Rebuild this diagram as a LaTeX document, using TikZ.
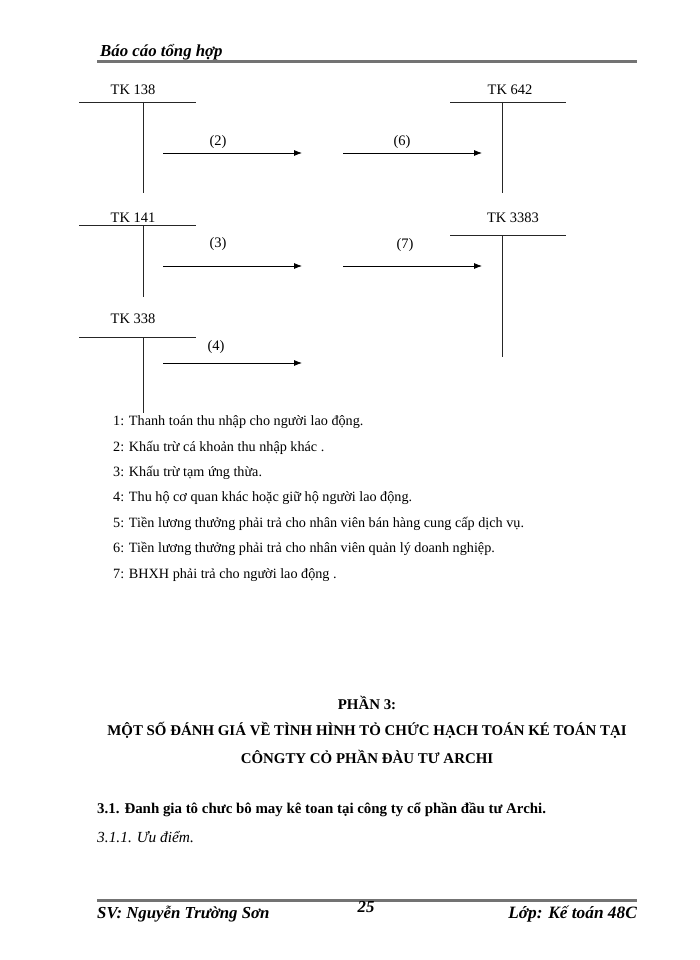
\documentclass[tikz,border=0pt]{standalone}
\usepackage{fontspec}
\setmainfont{Liberation Serif}
\usetikzlibrary{arrows.meta}
\usetikzlibrary{calc}

\begin{document}
\begin{tikzpicture}[ x=1pt, y=-1pt,
      normal/.style={ line width=0.8pt, -{Latex[length=8pt,width=6pt]}},
      account line/.style={line width=0.9pt, black!85},
      rule line/.style={line width=3pt, black!55},
      every node/.style={color=black, inner sep=0pt},
      label text/.style={font=\fontsize{14.5}{17}\selectfont},
      body text/.style={font=\fontsize{14.2}{17}\selectfont, anchor=west},
      head text/.style={font=\fontsize{14.9}{17}\bfseries\selectfont},
      page text/.style={font=\fontsize{16.8}{19}\bfseries\itshape\selectfont, anchor=base west}
      ]
      \useasboundingbox[fill=white] (0,0) rectangle (700,960);

      % header
      \node[page text] (Header) at (100,57) {Báo cáo tổng hợp};
      \coordinate (HeadL) at (97,62);
      \coordinate (HeadR) at (637,62);
      \draw[rule line] (HeadL) -- (HeadR);

      % accounts on the left
      \node[label text] (TKa) at (133,90) {TK 138};
      \coordinate (TKaL) at (79,102);
      \coordinate (TKaR) at (196,102);
      \coordinate (TKaT) at (143,102);
      \coordinate (TKaB) at (143,193);
      \draw[account line] (TKaL) -- (TKaR);
      \draw[account line] (TKaT) -- (TKaB);

      \node[label text] (TKb) at (133,218) {TK 141};
      \coordinate (TKbL) at (79,225);
      \coordinate (TKbR) at (196,225);
      \coordinate (TKbT) at (143,225);
      \coordinate (TKbB) at (143,297);
      \draw[account line] (TKbL) -- (TKbR);
      \draw[account line] (TKbT) -- (TKbB);

      \node[label text] (TKc) at (133,319) {TK 338};
      \coordinate (TKcL) at (79,337);
      \coordinate (TKcR) at (196,337);
      \coordinate (TKcT) at (143,337);
      \coordinate (TKcB) at (143,413);
      \draw[account line] (TKcL) -- (TKcR);
      \draw[account line] (TKcT) -- (TKcB);

      % accounts on the right
      \node[label text] (TKd) at (510,90) {TK 642};
      \coordinate (TKdL) at (450,102);
      \coordinate (TKdR) at (566,102);
      \coordinate (TKdT) at (502,102);
      \coordinate (TKdB) at (502,193);
      \draw[account line] (TKdL) -- (TKdR);
      \draw[account line] (TKdT) -- (TKdB);

      \node[label text] (TKe) at (513,218) {TK 3383};
      \coordinate (TKeL) at (450,235);
      \coordinate (TKeR) at (566,235);
      \coordinate (TKeT) at (502,235);
      \coordinate (TKeB) at (502,357);
      \draw[account line] (TKeL) -- (TKeR);
      \draw[account line] (TKeT) -- (TKeB);

      % entries
      \coordinate (Ea) at (163,153);
      \coordinate (Eb) at (302,153);
      \draw[normal] (Ea) -- (Eb);
      \node[label text] (Lb) at (218,142) {(2)};

      \coordinate (Ec) at (343,153);
      \coordinate (Ed) at (482,153);
      \draw[normal] (Ec) -- (Ed);
      \node[label text] (Lf) at (402,142) {(6)};

      \coordinate (Ee) at (163,266);
      \coordinate (Ef) at (302,266);
      \draw[normal] (Ee) -- (Ef);
      \node[label text] (Lc) at (218,244) {(3)};

      \coordinate (Eg) at (343,266);
      \coordinate (Eh) at (482,266);
      \draw[normal] (Eg) -- (Eh);
      \node[label text] (Lg) at (405,245) {(7)};

      \coordinate (Ei) at (163,363);
      \coordinate (Ej) at (302,363);
      \draw[normal] (Ei) -- (Ej);
      \node[label text] (Ld) at (216,347) {(4)};

      % legend
      \node[body text] (Item1) at (113,422) {1: Thanh toán thu nhập cho người lao động.};
      \node[body text] (Item2) at (113,448) {2: Khấu trừ cá khoản thu nhập khác .};
      \node[body text] (Item3) at (113,473) {3: Khấu trừ tạm ứng thừa.};
      \node[body text] (Item4) at (113,498) {4: Thu hộ cơ quan khác hoặc giữ hộ người lao động.};
      \node[body text] (Item5) at (113,524) {5: Tiền lương thưởng phải trả cho nhân viên bán hàng cung cấp dịch vụ.};
      \node[body text] (Item6) at (113,549) {6: Tiền lương thưởng phải trả cho nhân viên quản lý doanh nghiệp.};
      \node[body text] (Item7) at (113,575) {7: BHXH phải trả cho người lao động .};

      % part 3
      \node[head text] (Part) at (367,703) {PHẦN 3:};
      \node[head text] (TitleA) at (367,730) {MỘT SỐ ĐÁNH GIÁ VỀ TÌNH HÌNH TỎ CHỨC HẠCH TOÁN KÉ TOÁN TẠI};
      \node[head text] (TitleB) at (367,757) {CÔNGTY CỎ PHẦN ĐÀU TƯ ARCHI};
      \node[head text, anchor=west] (Sec) at (97,810) {3.1. Đanh gia tô chưc bô may kê toan tại công ty cổ phần đầu tư Archi.};
      \node[body text, font=\fontsize{15.4}{18}\itshape\selectfont] (SubSec) at (97,837) {3.1.1. Ưu điểm.};

      % footer
      \coordinate (FootL) at (97,900);
      \coordinate (FootR) at (637,900);
      \draw[rule line] (FootL) -- (FootR);
      \node[page text] (Student) at (97,918) {SV: Nguyễn Trường Sơn};
      \node[page text, anchor=base] (Page) at (366,912) {25};
      \node[page text, font=\fontsize{17.3}{19}\bfseries\itshape\selectfont, anchor=base east] (Class) at (637,918) {Lớp: Kế toán 48C};
    \end{tikzpicture}
\end{document}
